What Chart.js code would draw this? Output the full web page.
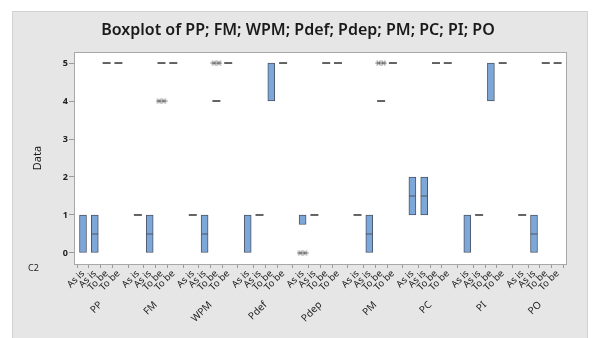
<!DOCTYPE html>
<html><head><meta charset="utf-8">
<script src="https://cdn.jsdelivr.net/npm/chart.js@4.4.0/dist/chart.umd.min.js"></script>
<style>html,body{margin:0;padding:0;background:#fff}canvas{display:block}</style>
</head><body>
<canvas id="c" width="596" height="338"></canvas>
<script>
// ---- data ----
const groups = ['PP','FM','WPM','Pdef','Pdep','PM','PC','PI','PO'];
const levels = ['As is','As is','To be','To be'];
const q1 =      [0,0,5,5,   1,0,5,5,   1,0,4,5,   0,1,4,5,   0.75,1,5,5, 1,0,4,5,   1,1,5,5,     0,1,4,5,   1,0,5,5];
const q3 =      [1,1,5,5,   1,1,5,5,   1,1,4,5,   1,1,5,5,   1,1,5,5,    1,1,4,5,   2,2,5,5,     1,1,5,5,   1,1,5,5];
const medians = [0,0.5,5,5, 1,0.5,5,5, 1,0.5,4,5, 0,1,5,5,   1,1,5,5,    1,0.5,4,5, 1.5,1.5,5,5, 0,1,5,5,   1,0.5,5,5];
const outlierBox =   [6, 10, 16, 22];
const outlierValue = [4, 5, 0, 5];
const yTicks = [0,1,2,3,4,5];

// ---- layout of categories along x (group gap wider than level gap) ----
const GROUP_STEP = 54.9, LEVEL_STEP = 11.8;
const pos = k => Math.floor(k / 4) * GROUP_STEP + (k % 4) * LEVEL_STEP;
const catPos = q1.map((_, k) => pos(k));
const catLabels = q1.map((_, k) => levels[k % 4]);
const groupPos = groups.map((_, g) => pos(g * 4) + 1.5 * LEVEL_STEP);

const boxData = [], medData = [], dashData = [];
q1.forEach((v, k) => {
  if (q3[k] > v) {
    boxData.push({x: catPos[k], y: [v, q3[k]]});
    if (medians[k] > v && medians[k] < q3[k]) medData.push({x: catPos[k], y: medians[k]});
  } else {
    dashData.push({x: catPos[k], y: medians[k]});
  }
});
const outData = outlierBox.map((k, i) => ({x: catPos[k], y: outlierValue[i]}));

// asterisk-pair point style for outliers
const ast = document.createElement('canvas');
ast.width = 12; ast.height = 7;
(function () {
  const c = ast.getContext('2d');
  c.strokeStyle = '#555'; c.lineWidth = 0.9;
  c.beginPath();
  [3.6, 8.4].forEach(cx => {
    [0, 0.9, -0.9].forEach(a => {
      c.moveTo(cx + 3.2 * Math.cos(a), 3.5 + 3.2 * Math.sin(a));
      c.lineTo(cx - 3.2 * Math.cos(a), 3.5 - 3.2 * Math.sin(a));
    });
  });
  c.stroke();
})();

const frame = {
  id: 'frame',
  beforeDraw(chart) {
    const {ctx, chartArea: a} = chart;
    ctx.save();
    ctx.fillStyle = '#ffffff';
    ctx.fillRect(0, 0, chart.width, chart.height);
    ctx.fillStyle = '#e6e6e6';
    ctx.fillRect(12, 11, 576, 327);
    ctx.strokeStyle = '#d2d2d2';
    ctx.lineWidth = 1;
    ctx.strokeRect(12.5, 11.5, 575, 330);
    ctx.fillStyle = '#ffffff';
    ctx.fillRect(a.left, a.top, a.right - a.left, a.bottom - a.top);
    ctx.restore();
  },
  afterDraw(chart) {
    const {ctx, chartArea: a} = chart;
    ctx.save();
    ctx.strokeStyle = '#a8a8a8';
    ctx.lineWidth = 1;
    ctx.strokeRect(Math.round(a.left) + 0.5, Math.round(a.top) + 0.5,
                   Math.round(a.right - a.left) - 1, Math.round(a.bottom - a.top));
    ctx.fillStyle = '#222';
    ctx.font = '9px "Noto Sans"';
    ctx.textAlign = 'left';
    ctx.textBaseline = 'middle';
    ctx.fillText('C2', 28, 268);
    ctx.restore();
  }
};

new Chart(document.getElementById('c'), {
  type: 'bar',
  data: {
    datasets: [
      {type: 'scatter', data: outData, pointStyle: ast, pointRadius: 5, order: 0},
      {type: 'scatter', data: medData, pointStyle: 'line', pointRadius: 3.4,
       borderColor: '#4d5666', borderWidth: 1, order: 1},
      {type: 'scatter', data: dashData, pointStyle: 'line', pointRadius: 4,
       borderColor: '#222', borderWidth: 1.4, order: 2},
      {type: 'bar', data: boxData, barThickness: 7, backgroundColor: '#7da7d9',
       borderColor: '#4d5666', borderWidth: 1, borderSkipped: false, order: 3}
    ]
  },
  options: {
    responsive: false, animation: false, devicePixelRatio: 1,
    layout: {padding: {left: 12, right: 12, top: 11, bottom: 14}},
    plugins: {
      legend: {display: false}, tooltip: {enabled: false},
      title: {display: true, text: 'Boxplot of PP; FM; WPM; Pdef; Pdep; PM; PC; PI; PO',
        color: '#1a1a1a', font: {family: '"Noto Sans"', size: 16, weight: '600'},
        padding: {top: 10, bottom: 11.8}}
    },
    scales: {
      x: {
        type: 'linear', position: 'bottom', offset: false, weight: 0,
        min: -9, max: 484,
        afterBuildTicks: s => { s.ticks = catPos.map(v => ({value: v})); },
        afterFit: s => { s.height = 30; },
        grid: {drawOnChartArea: false, drawTicks: true, tickLength: 4, color: '#9a9a9a'},
        border: {display: false},
        ticks: {autoSkip: false, minRotation: 45, maxRotation: 45, padding: 0,
          color: '#222', font: {family: '"Noto Sans"', size: 9.5},
          callback: (v, i) => catLabels[i]}
      },
      x2: {
        type: 'linear', position: 'bottom', offset: false, weight: 1,
        min: -9, max: 484,
        afterBuildTicks: s => { s.ticks = groupPos.map(v => ({value: v})); },
        afterFit: s => { s.height = 30; },
        grid: {display: false, drawTicks: false},
        border: {display: false},
        ticks: {autoSkip: false, minRotation: 45, maxRotation: 45, padding: 5,
          color: '#222', font: {family: '"Noto Sans"', size: 10},
          callback: (v, i) => groups[i]}
      },
      y: {
        type: 'linear', min: -0.29, max: 5.29,
        afterBuildTicks: s => { s.ticks = yTicks.map(v => ({value: v})); },
        afterFit: s => { s.width = 62; },
        grid: {drawOnChartArea: false, drawTicks: true, tickLength: 5, color: '#9a9a9a'},
        border: {display: false},
        title: {display: true, text: 'Data', color: '#1a1a1a',
          font: {family: '"Noto Sans"', size: 11}, padding: {top: 19, bottom: 0}},
        ticks: {padding: 1, color: '#222', font: {family: '"Noto Sans"', size: 9, weight: 'bold'}}
      },
      yRight: {
        type: 'linear', position: 'right', min: -0.29, max: 5.29,
        afterFit: s => { s.width = 17; },
        grid: {display: false, drawTicks: false},
        border: {display: false},
        ticks: {display: false}
      }
    }
  },
  plugins: [frame]
});
</script>
</body></html>
